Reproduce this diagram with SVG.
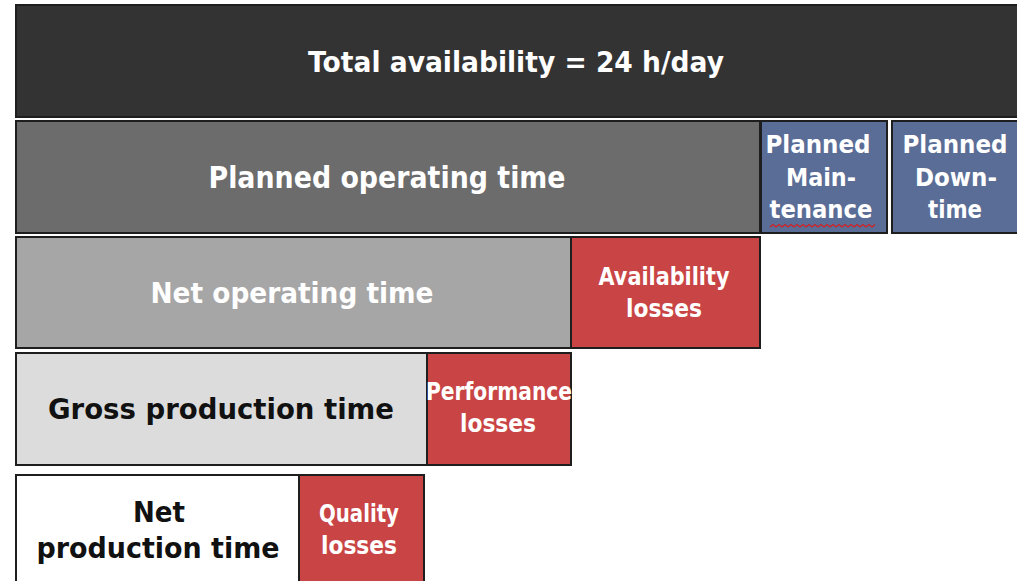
<svg xmlns="http://www.w3.org/2000/svg" width="1017" height="581" viewBox="0 0 1017 581">
<style>
.b{stroke:#1e1e1e;stroke-width:2}
.t{font-family:"DejaVu Sans","Liberation Sans",Arial,sans-serif;font-weight:bold;text-anchor:middle}
.w{fill:#ffffff}
.k{fill:#111111}
</style>
<rect width="1017" height="581" fill="#ffffff"/>
<g id="total">
<rect class="b" x="16" y="5" width="1010" height="112" fill="#333333"/>
<text class="t w" x="516" y="72" font-size="29" textLength="416" lengthAdjust="spacingAndGlyphs">Total availability = 24 h/day</text>
</g>
<g id="planned-operating">
<rect class="b" x="16" y="121" width="744" height="112" fill="#6c6c6c"/>
<text class="t w" x="387" y="188" font-size="30" textLength="357" lengthAdjust="spacingAndGlyphs">Planned operating time</text>
</g>
<g id="planned-maintenance">
<rect class="b" x="761" y="121" width="126" height="112" fill="#5a6d96"/>
<text class="t w" font-size="24"><tspan x="818" y="153" textLength="105" lengthAdjust="spacingAndGlyphs">Planned</tspan><tspan x="821" y="186" textLength="70" lengthAdjust="spacingAndGlyphs">Main-</tspan><tspan x="821" y="218" textLength="103" lengthAdjust="spacingAndGlyphs">tenance</tspan></text>
<path d="M770,227 l3,-2.5 l3,2.5 l3,-2.5 l3,2.5 l3,-2.5 l3,2.5 l3,-2.5 l3,2.5 l3,-2.5 l3,2.5 l3,-2.5 l3,2.5 l3,-2.5 l3,2.5 l3,-2.5 l3,2.5 l3,-2.5 l3,2.5 l3,-2.5 l3,2.5 l3,-2.5 l3,2.5 l3,-2.5 l3,2.5 l3,-2.5 l3,2.5 l3,-2.5 l3,2.5 l3,-2.5 l3,2.5 l3,-2.5 l3,2.5 l3,-2.5 l3,2.5 l3,-2.5" fill="none" stroke="#d22020" stroke-width="1.2"/>
</g>
<g id="planned-downtime">
<rect class="b" x="892" y="121" width="130" height="112" fill="#5a6d96"/>
<text class="t w" font-size="24"><tspan x="955" y="153" textLength="105" lengthAdjust="spacingAndGlyphs">Planned</tspan><tspan x="956" y="186" textLength="82" lengthAdjust="spacingAndGlyphs">Down-</tspan><tspan x="955" y="218" textLength="54" lengthAdjust="spacingAndGlyphs">time</tspan></text>
</g>
<g id="net-operating">
<rect class="b" x="16" y="237" width="555" height="111" fill="#a6a6a6"/>
<text class="t w" x="292" y="303" font-size="28" textLength="283" lengthAdjust="spacingAndGlyphs">Net operating time</text>
</g>
<g id="availability-losses">
<rect class="b" x="571" y="237" width="189" height="111" fill="#c94444"/>
<text class="t w" font-size="24"><tspan x="664" y="285" textLength="131" lengthAdjust="spacingAndGlyphs">Availability</tspan><tspan x="664" y="317" textLength="76" lengthAdjust="spacingAndGlyphs">losses</tspan></text>
</g>
<g id="gross-production">
<rect class="b" x="16" y="353" width="411" height="112" fill="#dcdcdc"/>
<text class="t k" x="221" y="419" font-size="28" textLength="346" lengthAdjust="spacingAndGlyphs">Gross production time</text>
</g>
<g id="performance-losses">
<rect class="b" x="427" y="353" width="144" height="112" fill="#c94444"/>
<text class="t w" font-size="24"><tspan x="499" y="400" textLength="146" lengthAdjust="spacingAndGlyphs">Performance</tspan><tspan x="498" y="432" textLength="76" lengthAdjust="spacingAndGlyphs">losses</tspan></text>
</g>
<g id="net-production">
<rect class="b" x="16" y="475" width="283" height="120" fill="#ffffff"/>
<text class="t k" font-size="28"><tspan x="159" y="522" textLength="52" lengthAdjust="spacingAndGlyphs">Net</tspan><tspan x="158" y="558" textLength="243" lengthAdjust="spacingAndGlyphs">production time</tspan></text>
</g>
<g id="quality-losses">
<rect class="b" x="299" y="475" width="125" height="120" fill="#c94444"/>
<text class="t w" font-size="24"><tspan x="359" y="522" textLength="80" lengthAdjust="spacingAndGlyphs">Quality</tspan><tspan x="359" y="554" textLength="76" lengthAdjust="spacingAndGlyphs">losses</tspan></text>
</g>
<g id="connectors"></g>
</svg>
